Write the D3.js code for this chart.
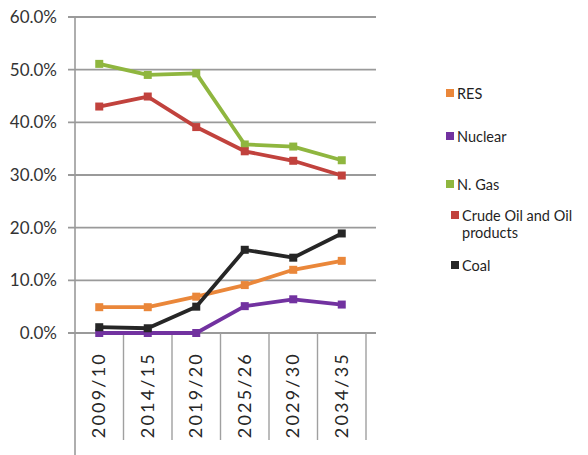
<!DOCTYPE html>
<html>
<head>
<meta charset="utf-8">
<script src="https://cdn.jsdelivr.net/npm/d3@7"></script>
<style>
  html, body { margin: 0; padding: 0; background: #fff; }
  svg { display: block; }
</style>
</head>
<body>
<svg id="chart" width="588" height="455"></svg>
<script>
// Energy mix shares by period (% of total)
const categories = ["2009/10", "2014/15", "2019/20", "2025/26", "2029/30", "2034/35"];
const res     = [4.9, 4.9, 6.9, 9.1, 12.0, 13.7];
const nuclear = [0.0, 0.0, 0.0, 5.1, 6.4, 5.4];
const gas     = [51.1, 49.0, 49.3, 35.8, 35.4, 32.8];
const oil     = [43.0, 44.9, 39.1, 34.5, 32.7, 29.9];
const coal    = [1.1, 0.9, 5.0, 15.8, 14.3, 18.9];
const yTicks  = [0, 10, 20, 30, 40, 50, 60];

const seriesNames  = ["RES", "Nuclear", "N. Gas", "Crude Oil and Oil products", "Coal"];
const seriesValues = [res, nuclear, gas, oil, coal];
const seriesColors = ["#ea873a", "#7232a0", "#8fb63f", "#c1423d", "#262626"];

const svg = d3.select("#chart");

const x = d3.scaleBand().domain(categories).range([75, 366]);
const y = d3.scaleLinear().domain([0, 60]).range([333, 17]);
const gridRight = 376;

// horizontal gridlines
svg.append("g")
  .selectAll("line")
  .data(yTicks)
  .join("line")
  .attr("x1", 68).attr("x2", gridRight)
  .attr("y1", d => y(d)).attr("y2", d => y(d))
  .attr("stroke", "#9a9a9a").attr("stroke-width", 1.8);

// y axis labels
svg.append("g")
  .selectAll("text")
  .data(yTicks)
  .join("text")
  .attr("x", 57).attr("y", d => y(d))
  .attr("dy", "0.36em")
  .attr("text-anchor", "end")
  .attr("font-family", "'Liberation Sans Narrow', 'Arial Narrow', Lato, sans-serif")
  .attr("font-size", 17)
  .attr("fill", "#333")
  .text(d => d.toFixed(1) + "%");

// vertical axis line
svg.append("line")
  .attr("x1", 75).attr("x2", 75)
  .attr("y1", y(60)).attr("y2", 455)
  .attr("stroke", "#9a9a9a").attr("stroke-width", 1.6);

// category divider ticks below the zero line
const dividers = categories.map(c => x(c) + x.bandwidth());
svg.append("g")
  .selectAll("line")
  .data(dividers)
  .join("line")
  .attr("x1", d => d).attr("x2", d => d)
  .attr("y1", y(0)).attr("y2", 440)
  .attr("stroke", "#a0a0a0").attr("stroke-width", 1.4);

// rotated category labels
svg.append("g")
  .selectAll("text")
  .data(categories)
  .join("text")
  .attr("transform", d => `translate(${x(d) + x.bandwidth() / 2 + 6},352) rotate(-90)`)
  .attr("text-anchor", "end")
  .attr("font-family", "Lato, 'Open Sans', sans-serif")
  .attr("font-size", 18)
  .attr("letter-spacing", 2.2)
  .attr("fill", "#262626")
  .text(d => d);

// series lines and markers
const line = d3.line()
  .x((d, i) => x(categories[i]) + x.bandwidth() / 2)
  .y(d => y(d));

seriesValues.forEach((vals, k) => {
  const g = svg.append("g");
  g.append("path")
    .datum(vals)
    .attr("d", line)
    .attr("fill", "none")
    .attr("stroke", seriesColors[k])
    .attr("stroke-width", 3.8)
    .attr("stroke-linejoin", "round");
  g.selectAll("rect")
    .data(vals)
    .join("rect")
    .attr("x", (d, i) => x(categories[i]) + x.bandwidth() / 2 - 4)
    .attr("y", d => y(d) - 4)
    .attr("width", 8).attr("height", 8)
    .attr("fill", seriesColors[k]);
});

// legend
const legendItems = [
  { lines: ["RES"], y: 99, x: 446 },
  { lines: ["Nuclear"], y: 142, x: 446 },
  { lines: ["N. Gas"], y: 190, x: 446 },
  { lines: ["Crude Oil and Oil", "products"], y: 221, x: 451 },
  { lines: ["Coal"], y: 271, x: 451 }
];
const legend = svg.append("g");
legendItems.forEach((item, k) => {
  legend.append("rect")
    .attr("x", item.x).attr("y", item.y - 10)
    .attr("width", 8).attr("height", 8)
    .attr("fill", seriesColors[k]);
  const t = legend.append("text")
    .attr("font-family", "Lato, 'Open Sans', sans-serif")
    .attr("font-size", 14.5)
    .attr("fill", "#1f1f1f");
  item.lines.forEach((ln, j) => {
    t.append("tspan")
      .attr("x", item.x + 11)
      .attr("y", item.y + j * 17)
      .text(ln);
  });
});
</script>
</body>
</html>
